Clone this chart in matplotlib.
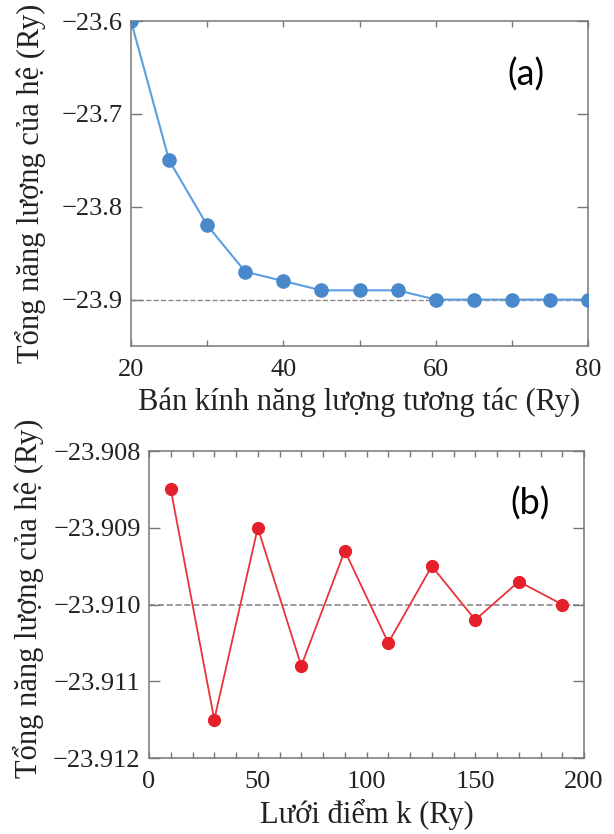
import matplotlib
matplotlib.use("Agg")
import matplotlib.pyplot as plt
from matplotlib.ticker import MultipleLocator, FuncFormatter

# (a) energy vs cutoff
ecut = [20, 25, 30, 35, 40, 45, 50, 55, 60, 65, 70, 75, 80]
energy_a = [-23.60, -23.75, -23.82, -23.87, -23.88, -23.89, -23.89, -23.89,
            -23.90, -23.90, -23.90, -23.90, -23.90]
ref_a = -23.90

# (b) energy vs k-grid
kgrid = [10, 30, 50, 70, 90, 110, 130, 150, 170, 190]
energy_b = [-23.9085, -23.9115, -23.9090, -23.9108, -23.9093, -23.9105,
            -23.9095, -23.9102, -23.9097, -23.9100]
ref_b = -23.910

ylabel = "Tổng năng lượng của hệ (Ry)"
xlabel_a = "Bán kính năng lượng tương tác (Ry)"
xlabel_b = "Lưới điểm k (Ry)"

plt.rcParams["font.family"] = ["Liberation Serif", "DejaVu Serif"]

fig = plt.figure(figsize=(6.14, 8.34), dpi=100)
ax1 = fig.add_axes([0.2134, 0.5851, 0.7443, 0.3897])
ax2 = fig.add_axes([0.2427, 0.0911, 0.7085, 0.3681])

spine_col = "#777777"
text_col = "#222222"


def fmt(decimals):
    return FuncFormatter(lambda v, pos: f"{v:.{decimals}f}".replace("-", "\u2212"))


def style(ax):
    for s in ax.spines.values():
        s.set_color(spine_col)
        s.set_linewidth(1.1)
    ax.tick_params(which="both", direction="in", top=True, right=True,
                   color=spine_col, labelsize=19, labelcolor=text_col)
    ax.tick_params(axis="y", which="major", length=8, width=1.0, pad=6)
    ax.tick_params(axis="x", which="both", length=4.5, width=1.0, pad=9)


# panel (a)
ax1.axhline(ref_a, color="#8a8a8a", linestyle="--", linewidth=1.0, zorder=1)
ax1.plot(ecut, energy_a, color="#5a9fe0", linewidth=1.5, marker="o",
         markersize=9.5, markerfacecolor="#4a88cc", markeredgecolor="#4a88cc",
         zorder=3)
ax1.set_xlim(20, 80)
ax1.set_ylim(-23.95, -23.6)
ax1.xaxis.set_major_locator(MultipleLocator(20))
ax1.xaxis.set_minor_locator(MultipleLocator(10))
ax1.yaxis.set_major_locator(MultipleLocator(0.1))
ax1.yaxis.set_major_formatter(fmt(1))
style(ax1)
ax1.set_xlabel(xlabel_a, fontsize=22, labelpad=5, color=text_col)
ax1.set_ylabel(ylabel, fontsize=22, color=text_col)
ax1.yaxis.set_label_coords(-0.186, 0.5)
ax1.text(0.865, 0.835, "(a)", transform=ax1.transAxes, fontsize=26,
         family=["Lato", "DejaVu Sans"], ha="center", va="center")

# panel (b)
ax2.axhline(ref_b, color="#8a8a8a", linestyle="--", linewidth=1.2, zorder=1)
ax2.plot(kgrid, energy_b, color="#e8333a", linewidth=1.3, marker="o",
         markersize=8.5, markerfacecolor="#e5202a", markeredgecolor="#e5202a",
         zorder=3)
ax2.set_xlim(0, 200)
ax2.set_ylim(-23.912, -23.908)
ax2.xaxis.set_major_locator(MultipleLocator(50))
ax2.xaxis.set_minor_locator(MultipleLocator(10))
ax2.yaxis.set_major_locator(MultipleLocator(0.001))
ax2.yaxis.set_major_formatter(fmt(3))
style(ax2)
ax2.tick_params(axis="x", which="both", length=4)
ax2.set_xlabel(xlabel_b, fontsize=22, labelpad=5, color=text_col)
ax2.set_ylabel(ylabel, fontsize=22, color=text_col)
ax2.yaxis.set_label_coords(-0.241, 0.52)
ax2.text(0.876, 0.83, "(b)", transform=ax2.transAxes, fontsize=26,
         family=["Lato", "DejaVu Sans"], ha="center", va="center")

fig.savefig("out.png", dpi=100)
